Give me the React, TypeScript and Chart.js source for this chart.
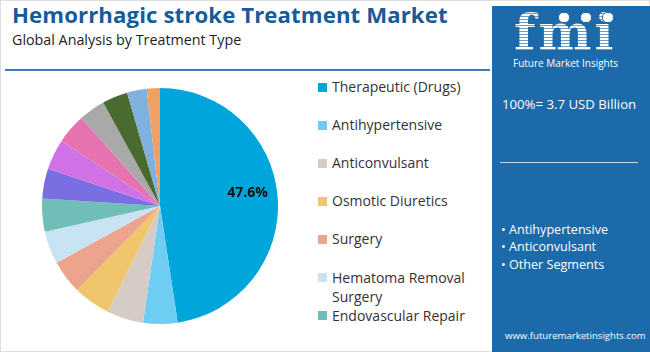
import React, { useEffect, useRef } from "react";
import { Chart, registerables } from "chart.js";

Chart.register(...registerables);

// ---- data ----
const categories = [
  "Therapeutic (Drugs)",
  "Antihypertensive",
  "Anticonvulsant",
  "Osmotic Diuretics",
  "Surgery",
  "Hematoma Removal Surgery",
  "Endovascular Repair",
  "Aneurysm Clipping",
  "Endovascular Coiling",
  "Craniotomy",
  "Ventriculostomy",
  "Stereotactic Aspiration",
  "Supportive Care",
  "Others",
];
const shares = [47.6, 4.7, 5.0, 5.1, 4.6, 4.5, 4.5, 4.1, 4.2, 4.1, 3.6, 3.5, 2.7, 1.8];
const sliceColors = [
  "#00a5dc",
  "#6fcdf3",
  "#d6cbc6",
  "#efc66c",
  "#eca48c",
  "#c8e4f4",
  "#6fbeb8",
  "#7a6fe2",
  "#d072e6",
  "#e673b0",
  "#a9a9a9",
  "#4a6b2f",
  "#80b1de",
  "#f0a062",
];
const labeledSlices = [0];
const titleText = "Hemorrhagic stroke Treatment Market";
const subtitleText = "Global Analysis by Treatment Type";
const marketSize = "100%= 3.7 USD Billion";
const highlights = ["Antihypertensive", "Anticonvulsant", "Other Segments"];
const siteUrl = "www.futuremarketinsights.com";

const FONT = "'Open Sans', 'DejaVu Sans', sans-serif";

const sliceLabelPlugin = {
  id: "sliceLabel",
  afterDatasetsDraw(chart: any) {
    const meta = chart.getDatasetMeta(0);
    const ctx = chart.ctx;
    ctx.save();
    ctx.font = "bold 14px 'Open Sans'";
    ctx.fillStyle = "#111";
    ctx.textAlign = "center";
    ctx.textBaseline = "middle";
    meta.data.forEach((arc: any, i: number) => {
      if (!labeledSlices.includes(i)) return;
      const p = arc.getProps(["x", "y", "startAngle", "endAngle", "outerRadius"], true);
      const mid = (p.startAngle + p.endAngle) / 2 - 0.07;
      const r = p.outerRadius * 0.75;
      ctx.fillText(shares[i].toFixed(1) + "%", p.x + Math.cos(mid) * r, p.y + Math.sin(mid) * r);
    });
    ctx.restore();
  },
};

function PieChart() {
  const ref = useRef<HTMLCanvasElement>(null);
  useEffect(() => {
    if (!ref.current) return;
    const chart = new Chart(ref.current, {
      type: "pie",
      data: {
        labels: categories,
        datasets: [{ data: shares, backgroundColor: sliceColors, borderWidth: 0 }],
      },
      options: {
        responsive: false,
        animation: false,
        layout: { padding: 0 },
        plugins: { legend: { display: false }, tooltip: { enabled: false } },
      },
      plugins: [sliceLabelPlugin],
    });
    return () => chart.destroy();
  }, []);
  return (
    <canvas
      ref={ref}
      width={236}
      height={236}
      style={{ position: "absolute", left: 42, top: 88, width: 236, height: 236 }}
    />
  );
}

export default function App() {
  const abs = (s: any) => ({ position: "absolute" as const, whiteSpace: "nowrap" as const, ...s });
  return (
    <div
      style={{
        position: "fixed",
        left: 0,
        top: 0,
        width: 650,
        height: 352,
        background: "#fff",
        overflow: "hidden",
        fontFamily: FONT,
      }}
    >
      <div style={{ position: "absolute", left: 0, top: 0, width: 650, height: 352, boxSizing: "border-box", border: "1px solid #dedede" }} />
      <div style={abs({ left: 12, top: 4, fontSize: 22.2, lineHeight: "22px", fontWeight: 700, color: "#175b97", letterSpacing: 0.1 })}>{titleText}</div>
      <div style={abs({ left: 12, top: 33, fontSize: 14.3, lineHeight: "14px", color: "#222" })}>{subtitleText}</div>
      <div style={abs({ left: 5, top: 69, width: 485, height: 2, background: "#3d7ab8" })} />

      <PieChart />

      <div style={{ position: "absolute", left: 318, top: 0, width: 170, height: 330, overflow: "hidden" }}>
        {categories.map((c, i) => (
          <div key={c} style={{ position: "absolute", left: 0, top: 77 + i * 38.1, width: 165, height: 38 }}>
            <div style={{ position: "absolute", left: 0, top: 5.5, width: 9, height: 9, background: sliceColors[i] }} />
            <div style={{ position: "absolute", left: 14, top: 0, width: 150, fontSize: 14, lineHeight: "19px", color: "#333" }}>{c}</div>
          </div>
        ))}
      </div>

      <div style={{ position: "absolute", left: 492, top: 6, width: 158, height: 346, background: "#1c6aa9" }}>
        <div
          style={abs({
            left: 22,
            top: 2,
            fontFamily: "'DejaVu Serif', serif",
            fontWeight: 700,
            fontSize: 50,
            lineHeight: "50px",
            letterSpacing: 3,
            color: "transparent",
            backgroundImage: "repeating-linear-gradient(#ffffff 0px, #ffffff 2px, rgba(255,255,255,0.35) 2px, rgba(255,255,255,0.35) 3px)",
            WebkitBackgroundClip: "text",
            backgroundClip: "text",
          })}
        >
          fmi
        </div>
        {[66, 88, 110].map((x) => (
          <div key={x} style={{ position: "absolute", left: x, top: 6, width: 10, height: 9, borderRadius: 5, background: "#fff", border: "1.5px solid #1c6aa9" }} />
        ))}
        <div style={abs({ left: 21, top: 52, fontSize: 10, lineHeight: "10px", color: "#fff" })}>Future Market Insights</div>
        <div style={abs({ left: 10, top: 91, fontSize: 13.2, lineHeight: "14px", color: "#fff" })}>{marketSize}</div>
        <div style={{ position: "absolute", left: 8, top: 155.5, width: 138, height: 1.5, background: "rgba(255,255,255,0.75)" }} />
        {highlights.map((h, i) => (
          <div key={h} style={abs({ left: 9, top: 216.5 + i * 17.5, fontSize: 12.6, lineHeight: "13px", color: "#fff" })}>
            {"\u2022 " + h}
          </div>
        ))}
        <div style={abs({ left: 13, top: 325, fontSize: 9.6, lineHeight: "10px", color: "#fff" })}>{siteUrl}</div>
      </div>
    </div>
  );
}
